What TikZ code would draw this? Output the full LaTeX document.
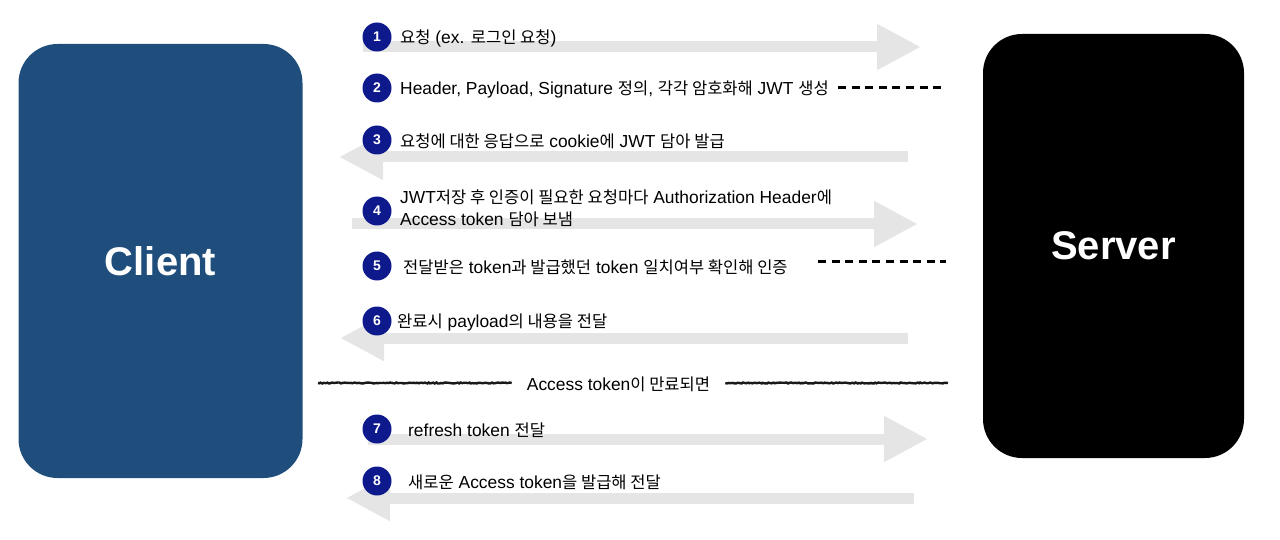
\documentclass[tikz,border=0pt]{standalone}
\usepackage{fontspec}
\setmainfont{Liberation Sans}
\newfontfamily\krfont[Scale=0.95]{Noto Sans CJK KR}
\newcommand{\ko}[1]{{\krfont #1}}
\usetikzlibrary{arrows.meta}
\usetikzlibrary{decorations.pathmorphing}
\definecolor{clientblue}{RGB}{31,78,124}
\definecolor{badgeblue}{RGB}{14,26,140}
\definecolor{flowgray}{RGB}{229,229,229}
\tikzset{
   party/.style={rounded corners=39pt, text=white,
      font=\fontsize{40}{48}\selectfont\bfseries},
   badge/.style={circle, fill=badgeblue, text=white, minimum size=29pt,
      inner sep=0pt, font=\fontsize{14}{16}\selectfont\bfseries},
   msg/.style={anchor=west, inner sep=0pt, align=left,
      font=\fontsize{17.4}{22}\selectfont},
   flow/.style={draw=flowgray, line width=11pt,
      -{Triangle[length=44pt, width=43pt]}},
   local/.style={line width=3pt, dash pattern=on 8pt off 5.6pt},
   expiry/.style={line width=2.4pt, draw=black!90, decorate,
      decoration={random steps, segment length=1.5pt, amplitude=0.5pt}},
    }

\begin{document}
\begin{tikzpicture}[x=1pt, y=-1pt]
            \useasboundingbox (0,0) rectangle (1280,540);
            \node[party, fill=clientblue, minimum width=284pt, minimum height=434pt] (client) at (160.5,261) {Client};
            \node[party, fill=black, minimum width=261pt, minimum height=424pt] (server) at (1113.5,246) {Server};
            % message arrows
            \coordinate (a1s) at (363,47);  \coordinate (a1e) at (921,47);
            \coordinate (a3s) at (908,157); \coordinate (a3e) at (339,157);
            \coordinate (a4s) at (352,224); \coordinate (a4e) at (918,224);
            \coordinate (a6s) at (908,338); \coordinate (a6e) at (340,338);
            \coordinate (a7s) at (368,439); \coordinate (a7e) at (928,439);
            \coordinate (a8s) at (914,498); \coordinate (a8e) at (346,498);
            \foreach \k in {1,3,4,6,7,8}
                \draw[flow] (a\k s) -- (a\k e);
            % server side steps
            \coordinate (d2s) at (838,88);  \coordinate (d2e) at (943,88);
            \coordinate (d5s) at (818,262); \coordinate (d5e) at (946,262);
            \draw[local] (d2s) -- (d2e);
            \draw[local] (d5s) -- (d5e);
            % step numbers
            \foreach \k/\y in {1/37,2/88,3/140,4/211,5/266,6/321,7/429,8/481}
                \node[badge] (n\k) at (377,\y) {\k};
            \node[msg] (t1) at (400,38) {\ko{요청} (ex. \ko{로그인 요청})};
            \node[msg] (t2) at (400,89) {Header, Payload, Signature \ko{정의}, \ko{각각 암호화해} JWT \ko{생성}};
            \node[msg] (t3) at (400,141) {\ko{요청에 대한 응답으로} cookie\ko{에} JWT \ko{담아 발급}};
            \node[msg] (t4) at (400,208) {JWT\ko{저장 후 인증이 필요한 요청마다} Authorization Header\ko{에}\\Access token \ko{담아 보냄}};
            \node[msg] (t5) at (403,267) {\ko{전달받은} token\ko{과 발급했던} token \ko{일치여부 확인해 인증}};
            \node[msg] (t6) at (397,322) {\ko{완료시} payload\ko{의 내용을 전달}};
            \node[msg] (t7) at (408,430) {refresh token \ko{전달}};
            \node[msg] (t8) at (408,482) {\ko{새로운} Access token\ko{을 발급해 전달}};
            % expiry divider
            \node[msg, anchor=center] (expire) at (618.5,384) {Access token\ko{이 만료되면}};
            \coordinate (sepL) at (318,383);
            \coordinate (sepR) at (948,383);
            \draw[expiry] (sepL) -- ([xshift=-15pt]expire.west |- sepL);
            \draw[expiry] ([xshift=15pt]expire.east |- sepR) -- (sepR);
        \end{tikzpicture}
\end{document}
